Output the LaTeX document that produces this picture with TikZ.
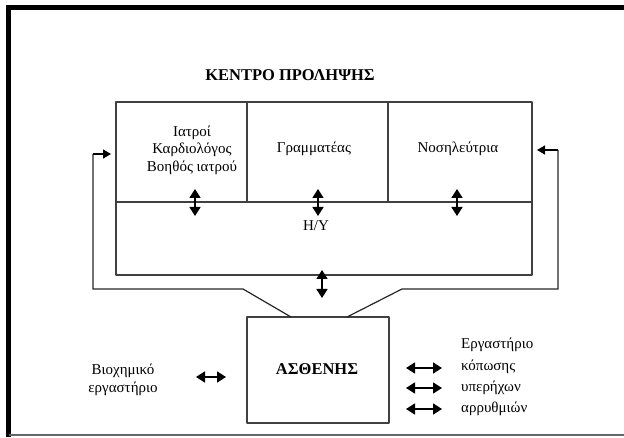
\documentclass[tikz,border=0pt]{standalone}
\usepackage{fontspec}
\setmainfont{Liberation Serif}
\usepackage{tikz}
\usetikzlibrary{calc, arrows.meta}
\usepackage{tkz-euclide}

\begin{document}
\begin{tikzpicture}[x=1pt, y=-1pt,
        box/.style={black!75, line width=1.1pt},
        link/.style={black!85, line width=1.2pt},
        dbl/.style={{Triangle[length=9pt,width=11pt]}-{Triangle[length=9pt,width=11pt]}, line width=1.6pt},
        sgl/.style={-{Triangle[length=8pt,width=9pt]}, line width=1.2pt},
        txt/.style={font=\fontsize{15}{17.5}\selectfont, align=center, inner sep=0pt},
        hd/.style={font=\bfseries\fontsize{16.5}{19}\selectfont, inner sep=0pt}]
                \useasboundingbox (0,0) rectangle (624,438);
                % frame
                \draw[line width=5pt] (624,7.5) -- (8.5,7.5) -- (8.5,437);
                \draw[black!60, line width=2pt] (8.5,435) -- (624,435);
                % centre
                \tkzDefPoint(116,102){A}
                \tkzDefPoint(532,102){B}
                \tkzDefPoint(532,275){C}
                \tkzDefPoint(116,275){D}
                \tkzDefPoint(116,202){E}
                \tkzDefPoint(532,202){F}
                \tkzDefPoint(247,102){G}
                \tkzDefPoint(247,202){H}
                \tkzDefPoint(388,102){I}
                \tkzDefPoint(388,202){J}
                \tkzDrawPolygon[box](A,B,C,D)
                \tkzDrawSegments[box](E,F G,H I,J)
                % patient
                \tkzDefPoint(247,317){K}
                \tkzDefPoint(389,317){L}
                \tkzDefPoint(389,423){M}
                \tkzDefPoint(247,423){N}
                \tkzDrawPolygon[box](K,L,M,N)
                % feedback lines
                \tkzDefPoint(111,154){P1}
                \tkzDefPoint(93,154){P2}
                \tkzDefPoint(93,289){P3}
                \tkzDefPoint(243,289){P4}
                \tkzDefPoint(291,317){P5}
                \tkzDefPoint(537,150){Q1}
                \tkzDefPoint(558,150){Q2}
                \tkzDefPoint(558,289){Q3}
                \tkzDefPoint(402,289){Q4}
                \tkzDefPoint(347,317){Q5}
                \draw[link] (P5) -- (P4) -- (P3) -- (P2);
                \draw[sgl] (P2) -- (P1);
                \draw[link] (Q5) -- (Q4) -- (Q3) -- (Q2);
                \draw[sgl] (Q2) -- (Q1);
                % texts
                \node[hd] (title) at (290,75) {ΚΕΝΤΡΟ ΠΡΟΛΗΨΗΣ};
                \node[txt] (doctors) at (192,150) {Ιατροί\\Καρδιολόγος\\Βοηθός ιατρού};
                \node[txt] (secretary) at (314,149) {Γραμματέας};
                \node[txt] (nurse) at (458,149) {Νοσηλεύτρια};
                \node[txt] (pc) at (316,226) {Η/Υ};
                \node[hd] (patient) at (317,369) {ΑΣΘΕΝΗΣ};
                \node[txt] (biolab) at (123,380) {Βιοχημικό\\εργαστήριο};
                \node[txt, anchor=west] (lab) at (461,345) {Εργαστήριο};
                \node[txt, anchor=west] (stress) at (461,367) {κόπωσης};
                \node[txt, anchor=west] (echo) at (461,388) {υπερήχων};
                \node[txt, anchor=west] (rhythm) at (461,409) {αρρυθμιών};
                % arrows
                \tkzDefPoint(195,189){U1} \tkzDefPoint(195,216){V1}
                \tkzDefPoint(318,189){U2} \tkzDefPoint(318,216){V2}
                \tkzDefPoint(457,189){U3} \tkzDefPoint(457,216){V3}
                \tkzDefPoint(322,270){U4} \tkzDefPoint(322,298){V4}
                \draw[dbl] (U1) -- (V1);
                \draw[dbl] (U2) -- (V2);
                \draw[dbl] (U3) -- (V3);
                \draw[dbl] (U4) -- (V4);
                \tkzDefPoint(196,377){W0} \tkzDefPoint(226,377){X0}
                \draw[dbl] (W0) -- (X0);
                \tkzDefPoint(406,368){W1} \tkzDefPoint(442,368){X1}
                \tkzDefPoint(406,388){W2} \tkzDefPoint(442,388){X2}
                \tkzDefPoint(406,409){W3} \tkzDefPoint(442,409){X3}
                \draw[dbl] (W1) -- (X1);
                \draw[dbl] (W2) -- (X2);
                \draw[dbl] (W3) -- (X3);
\end{tikzpicture}
\end{document}
